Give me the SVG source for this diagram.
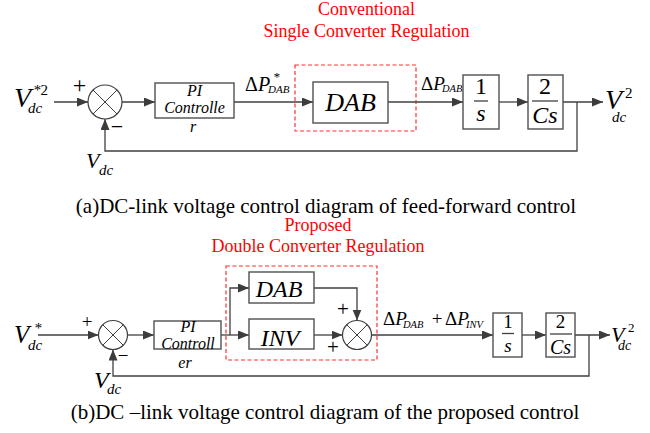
<svg xmlns="http://www.w3.org/2000/svg" width="650" height="433" viewBox="0 0 650 433">
<defs>
<marker id="ah" markerUnits="userSpaceOnUse" markerWidth="12" markerHeight="10" refX="11" refY="4.5" orient="auto">
<path d="M0,0 L11,4.5 L0,9 z" fill="#3c3c3c"/>
</marker>
<style>
text{font-family:"Liberation Serif","Times New Roman",serif;fill:#000}
.it{font-style:italic}
.red{fill:#ff0000;font-size:18px}
.cap{font-size:21px}
.box{fill:#fff;stroke:#505050;stroke-width:1.4}
.sum{fill:#fff;stroke:#404040;stroke-width:1.2}
.x{stroke:#404040;stroke-width:1}
.ln{fill:none;stroke:#404040;stroke-width:1.3}
.arr{fill:none;stroke:#404040;stroke-width:1.3;marker-end:url(#ah)}
.dash{fill:none;stroke:#ff3030;stroke-width:1.2;stroke-dasharray:4,2.5}
.bar{stroke:#404040;stroke-width:1.3}
</style>
</defs>
<rect width="650" height="433" fill="#fff"/>

<!-- ============ (a) ============ -->
<g id="title-a">
<text class="red" x="366.5" y="15" text-anchor="middle">Conventional</text>
<text class="red" x="366.5" y="37" text-anchor="middle">Single Converter Regulation</text>
</g>
<rect id="region-a" class="dash" x="295" y="65" width="121" height="66"/>

<g id="connectors-a">
<line class="arr" x1="54" y1="102" x2="88" y2="102"/>
<line class="arr" x1="122" y1="102" x2="155" y2="102"/>
<line class="arr" x1="234" y1="102" x2="313" y2="102"/>
<line class="arr" x1="388" y1="102" x2="463" y2="102"/>
<line class="arr" x1="499" y1="102" x2="528" y2="102"/>
<line class="arr" x1="563" y1="102" x2="603" y2="102"/>
<polyline class="arr" points="577,102 577,151 105,151 105,119"/>
</g>

<g id="in-a">
<text class="it" x="14" y="107" font-size="28">V</text>
<text x="33" y="95" font-size="15"><tspan class="it">*</tspan>2</text>
<text class="it" x="28" y="113" font-size="15">dc</text>
</g>

<g id="sum-a">
<circle class="sum" cx="105" cy="102" r="17"/>
<line class="x" x1="93" y1="90" x2="117" y2="114"/>
<line class="x" x1="117" y1="90" x2="93" y2="114"/>
<text x="79.5" y="93" font-size="24" text-anchor="middle">+</text>
<text x="117" y="134" font-size="22" text-anchor="middle">−</text>
</g>

<g id="fb-a">
<text class="it" x="86" y="168" font-size="22">V</text>
<text class="it" x="99" y="175" font-size="15">dc</text>
</g>

<g id="pi-a">
<rect class="box" x="155" y="83" width="79" height="35"/>
<text class="it" x="194.5" y="96" font-size="16" text-anchor="middle">PI</text>
<text class="it" x="194.5" y="113" font-size="16" text-anchor="middle">Controlle</text>
<text class="it" x="193" y="132" font-size="16" text-anchor="middle">r</text>
</g>

<g id="lbl-pref-a">
<text x="245" y="91" font-size="20">Δ<tspan class="it">P</tspan></text>
<text class="it" x="273" y="81" font-size="13">*</text>
<text class="it" x="268" y="93" font-size="11">DAB</text>
</g>

<g id="dab-a">
<rect class="box" x="313" y="82" width="75" height="41"/>
<text class="it" x="350.5" y="111" font-size="26" text-anchor="middle">DAB</text>
</g>

<g id="lbl-p-a">
<text x="421" y="90" font-size="19">Δ<tspan class="it">P</tspan></text>
<text class="it" x="442" y="92" font-size="10.5">DAB</text>
</g>

<g id="int-a">
<rect class="box" x="463" y="75" width="36" height="54"/>
<text x="481" y="94" font-size="24" text-anchor="middle">1</text>
<line class="bar" x1="474" y1="101" x2="488" y2="101"/>
<text class="it" x="481" y="121" font-size="24" text-anchor="middle">s</text>
</g>

<g id="cap-a">
<rect class="box" x="528" y="75" width="35" height="54"/>
<text x="545" y="94" font-size="24" text-anchor="middle">2</text>
<line class="bar" x1="532" y1="101" x2="558" y2="101"/>
<text class="it" x="545" y="123" font-size="24" text-anchor="middle">Cs</text>
</g>

<g id="out-a">
<text class="it" x="605" y="109" font-size="28">V</text>
<text x="625" y="98" font-size="15">2</text>
<text class="it" x="612" y="122" font-size="15">dc</text>
</g>

<text id="caption-a" class="cap" x="326" y="213" text-anchor="middle">(a)DC-link voltage control diagram of feed-forward control</text>

<!-- ============ (b) ============ -->
<g id="title-b">
<text class="red" x="318" y="231" text-anchor="middle">Proposed</text>
<text class="red" x="318" y="252" text-anchor="middle">Double Converter Regulation</text>
</g>
<rect id="region-b" class="dash" x="226" y="266" width="151" height="94"/>

<g id="connectors-b">
<line class="arr" x1="38" y1="335" x2="98.5" y2="335"/>
<line class="arr" x1="127.5" y1="335" x2="154" y2="335"/>
<line class="ln" x1="221" y1="335" x2="230" y2="335"/>
<polyline class="arr" points="230,335 230,288 249,288"/>
<line class="arr" x1="230" y1="335" x2="249" y2="335"/>
<polyline class="arr" points="314,288 357,288 357,320.5"/>
<line class="arr" x1="314" y1="335" x2="342.5" y2="335"/>
<line class="arr" x1="371.5" y1="335" x2="493" y2="335"/>
<line class="arr" x1="522" y1="335" x2="546" y2="335"/>
<line class="arr" x1="575" y1="335" x2="610" y2="335"/>
<polyline class="arr" points="589,335 589,376 113,376 113,349.5"/>
</g>

<g id="in-b">
<text class="it" x="14" y="343" font-size="25">V</text>
<text class="it" x="34" y="333" font-size="15">*</text>
<text class="it" x="28" y="350" font-size="15">dc</text>
</g>

<g id="sum1-b">
<circle class="sum" cx="113" cy="335" r="14.5"/>
<line class="x" x1="102.7" y1="324.7" x2="123.3" y2="345.3"/>
<line class="x" x1="123.3" y1="324.7" x2="102.7" y2="345.3"/>
<text x="87" y="328" font-size="19" text-anchor="middle">+</text>
<text x="123" y="362" font-size="19" text-anchor="middle">−</text>
</g>

<g id="fb-b">
<text class="it" x="94" y="388" font-size="24">V</text>
<text class="it" x="107" y="394" font-size="15">dc</text>
</g>

<g id="pi-b">
<rect class="box" x="154" y="321" width="67" height="28"/>
<text class="it" x="188" y="332" font-size="16" text-anchor="middle">PI</text>
<text class="it" x="188" y="349" font-size="16" text-anchor="middle">Controll</text>
<text class="it" x="185" y="368" font-size="16" text-anchor="middle">er</text>
</g>

<g id="dab-b">
<rect class="box" x="249" y="272" width="65" height="31"/>
<text class="it" x="279" y="297" font-size="24" text-anchor="middle">DAB</text>
</g>

<g id="inv-b">
<rect class="box" x="249" y="319" width="65" height="30"/>
<text class="it" x="280" y="346" font-size="24" text-anchor="middle">INV</text>
</g>

<g id="sum2-b">
<circle class="sum" cx="357" cy="335" r="14.5"/>
<line class="x" x1="346.7" y1="324.7" x2="367.3" y2="345.3"/>
<line class="x" x1="367.3" y1="324.7" x2="346.7" y2="345.3"/>
<text x="343" y="316" font-size="21" text-anchor="middle">+</text>
<text x="333" y="354" font-size="21" text-anchor="middle">+</text>
</g>

<g id="lbl-b">
<text x="383" y="325" font-size="19">Δ<tspan class="it">P</tspan></text>
<text class="it" x="403" y="328" font-size="10.5">DAB</text>
<text x="437" y="325" font-size="19" text-anchor="middle">+</text>
<text x="445" y="325" font-size="19">Δ<tspan class="it">P</tspan></text>
<text class="it" x="466" y="328" font-size="10.5">INV</text>
</g>

<g id="int-b">
<rect class="box" x="493" y="313" width="29" height="44"/>
<text x="508" y="328" font-size="19" text-anchor="middle">1</text>
<line class="bar" x1="502" y1="333.5" x2="514" y2="333.5"/>
<text class="it" x="508" y="352" font-size="19" text-anchor="middle">s</text>
</g>

<g id="cap-b">
<rect class="box" x="546" y="313" width="29" height="44"/>
<text x="560.5" y="328" font-size="19" text-anchor="middle">2</text>
<line class="bar" x1="550" y1="334" x2="572" y2="334"/>
<text class="it" x="560.5" y="354" font-size="20" text-anchor="middle">Cs</text>
</g>

<g id="out-b">
<text class="it" x="611" y="342" font-size="22">V</text>
<text x="628" y="332" font-size="13">2</text>
<text class="it" x="618" y="350" font-size="14">dc</text>
</g>

<text id="caption-b" class="cap" x="325" y="419" text-anchor="middle">(b)DC –link voltage control diagram of the proposed control</text>
</svg>
